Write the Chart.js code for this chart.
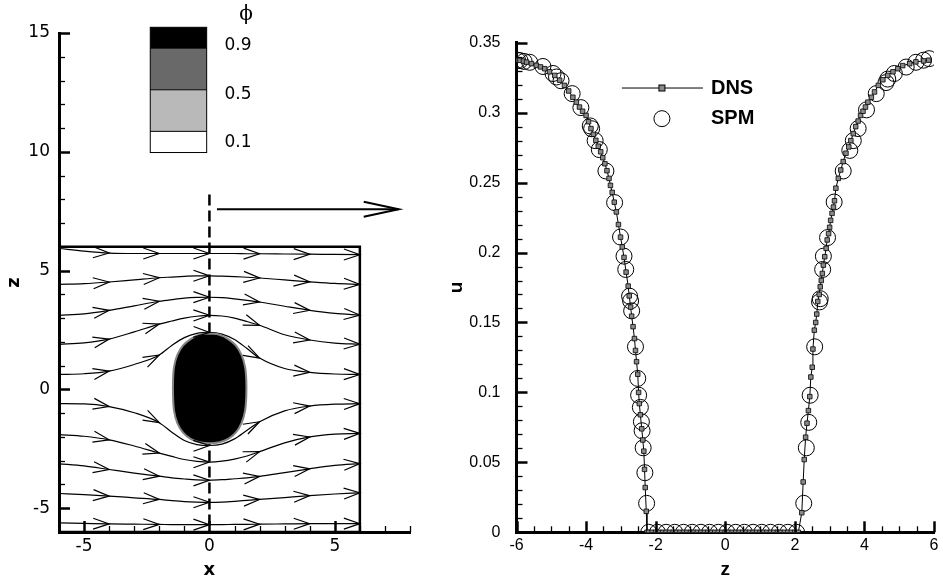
<!DOCTYPE html>
<html>
<head>
<meta charset="utf-8">
<script src="https://cdn.jsdelivr.net/npm/chart.js@4/dist/chart.umd.min.js"></script>
<style>
  body { margin: 0; background: #fff; }
  canvas { position: absolute; left: 0; top: 0; }
</style>
</head>
<body>
<canvas id="dropField" width="943" height="581"></canvas>
<canvas id="profile" width="943" height="581"></canvas>
<script>
// ---- left panel: streamlines around the drop ----
const streamX = [-6, -5, -4, -3, -2, -1.5, -1, -0.5, 0, 0.5, 1, 1.5, 2, 3, 4, 5, 6];
const streamZ = [
  [5.93, 5.82, 5.74, 5.72, 5.72, 5.72, 5.72, 5.72, 5.72, 5.72, 5.72, 5.71, 5.71, 5.7, 5.69, 5.68, 5.67],
  [4.42, 4.45, 4.52, 4.61, 4.7, 4.73, 4.76, 4.78, 4.78, 4.77, 4.75, 4.72, 4.69, 4.61, 4.53, 4.46, 4.42],
  [3.12, 3.18, 3.33, 3.52, 3.71, 3.78, 3.84, 3.87, 3.88, 3.86, 3.81, 3.75, 3.68, 3.5, 3.33, 3.2, 3.13],
  [1.9, 1.96, 2.12, 2.42, 2.75, 2.88, 3.0, 3.08, 3.12, 3.09, 3.0, 2.86, 2.7, 2.3, 2.08, 1.95, 1.9],
  [0.63, 0.66, 0.77, 1.05, 1.45, 1.85, 2.18, 2.36, 2.4, 2.33, 2.1, 1.72, 1.32, 0.88, 0.72, 0.65, 0.63],
  [-0.6, -0.61, -0.72, -0.98, -1.4, -1.8, -2.15, -2.32, -2.36, -2.3, -2.08, -1.72, -1.36, -0.9, -0.7, -0.62, -0.6],
  [-1.9, -1.97, -2.12, -2.38, -2.68, -2.82, -2.95, -3.03, -3.06, -3.02, -2.93, -2.8, -2.62, -2.25, -2.0, -1.88, -1.85],
  [-3.13, -3.22, -3.37, -3.52, -3.65, -3.72, -3.77, -3.81, -3.82, -3.8, -3.76, -3.72, -3.66, -3.5, -3.34, -3.2, -3.12],
  [-4.38, -4.43, -4.49, -4.56, -4.63, -4.68, -4.72, -4.74, -4.75, -4.74, -4.71, -4.67, -4.63, -4.55, -4.47, -4.4, -4.35],
  [-5.62, -5.64, -5.66, -5.67, -5.68, -5.69, -5.69, -5.69, -5.69, -5.69, -5.68, -5.68, -5.67, -5.66, -5.65, -5.65, -5.65],
];
const arrowStations = [-4, -2, 0, 2, 4, 6];

// drop outline (phi > 0.5)
const dropX = [0, 0.4, 0.75, 1.05, 1.28, 1.42, 1.47, 1.47, 1.42, 1.28, 1.05, 0.75, 0.4, 0,
  -0.4, -0.75, -1.05, -1.28, -1.41, -1.45, -1.45, -1.41, -1.28, -1.05, -0.75, -0.4, 0];
const dropZ = [2.35, 2.3, 2.12, 1.85, 1.45, 0.95, 0.4, -0.3, -0.9, -1.42, -1.82, -2.08, -2.22, -2.27,
  -2.22, -2.08, -1.82, -1.42, -0.9, -0.3, 0.4, 0.95, 1.45, 1.85, 2.12, 2.3, 2.35];

const boxX = [-6, 6, 6, -6, -6];
const boxZ = [-6, -6, 6, 6, -6];
const cutX = [0, 0];
const cutZ = [8.2, -6];
const pointerX = [0.3, 7.55];
const pointerZ = [7.58, 7.58];

const phiLabels = ["0.9", "0.5", "0.1"];
const phiShades = ["#000000", "#696969", "#b9b9b9", "#ffffff"];

// ---- right panel: u profile along z at x = 0 ----
const dnsZ = [
  -6.0, -5.9, -5.8, -5.71, -5.57, -5.43, -5.31, -5.19, -5.05, -4.9, -4.76, -4.62, -4.5, -4.38,
  -4.28, -4.19, -4.1, -4.0, -3.93, -3.86, -3.79, -3.72, -3.65, -3.58, -3.52, -3.46, -3.4, -3.34,
  -3.3, -3.25, -3.19, -3.13, -3.07, -3.01, -2.96, -2.91, -2.85, -2.79, -2.76, -2.72, -2.69, -2.65,
  -2.61, -2.58, -2.55, -2.515, -2.49, -2.47, -2.44, -2.4, -2.37, -2.34, -2.32, -2.3, -2.27, -2.25,
  -2.2, -2.1, -2.0, -1.9, -1.8, -1.7, -1.6, -1.5, -1.4, -1.3, -1.2, -1.1, -1.0, -0.9, -0.8,
  -0.7, -0.6, -0.5, -0.4, -0.3, -0.2, -0.1, 0, 0.1, 0.2, 0.3, 0.4, 0.5, 0.6, 0.7, 0.8,
  0.9, 1.0, 1.1, 1.2, 1.3, 1.4, 1.5, 1.6, 1.7, 1.8, 1.9, 2.0, 2.1, 2.2,
  2.24, 2.27, 2.31, 2.35, 2.39, 2.43, 2.46, 2.5, 2.52, 2.56, 2.6, 2.63, 2.66, 2.7, 2.73, 2.76,
  2.79, 2.82, 2.86, 2.9, 2.93, 2.97, 3.0, 3.03, 3.07, 3.11, 3.14, 3.18, 3.25, 3.32, 3.39, 3.47,
  3.55, 3.61, 3.68, 3.75, 3.82, 3.89, 3.96, 4.03, 4.1, 4.2, 4.29, 4.4, 4.53, 4.67, 4.82, 4.96,
  5.1, 5.3, 5.48, 5.7, 5.85, 6.0,
];
const dnsU = [
  0.3376, 0.3374, 0.3368, 0.3361, 0.335, 0.3338, 0.3327, 0.3314, 0.3292, 0.3266, 0.3232, 0.3195, 0.3155, 0.311,
  0.3075, 0.304, 0.301, 0.298, 0.2935, 0.2886, 0.2845, 0.2802, 0.276, 0.272, 0.2678, 0.2635, 0.2585, 0.253,
  0.248, 0.243, 0.236, 0.229, 0.22, 0.211, 0.204, 0.1965, 0.186, 0.176, 0.169, 0.161, 0.1545, 0.147,
  0.1385, 0.13, 0.122, 0.113, 0.1, 0.092, 0.084, 0.074, 0.066, 0.058, 0.045, 0.032, 0.015, 0,
  0, 0, 0, 0, 0, 0, 0, 0, 0, 0, 0, 0, 0, 0, 0,
  0, 0, 0, 0, 0, 0, 0, 0, 0, 0, 0, 0, 0, 0, 0,
  0, 0, 0, 0, 0, 0, 0, 0, 0, 0, 0, 0, 0, 0,
  0.014, 0.036, 0.052, 0.068, 0.078, 0.087, 0.097, 0.111, 0.118, 0.131, 0.1445, 0.15, 0.156, 0.165, 0.17, 0.1755,
  0.18, 0.185, 0.191, 0.197, 0.203, 0.209, 0.2135, 0.218, 0.223, 0.228, 0.2325, 0.237, 0.246, 0.253, 0.259, 0.265,
  0.271, 0.2755, 0.28, 0.285, 0.29, 0.294, 0.298, 0.301, 0.304, 0.3075, 0.311, 0.3148, 0.3195, 0.3235, 0.3266, 0.3292,
  0.3314, 0.3336, 0.335, 0.3363, 0.337, 0.3375,
];

const spmZ = [
  -5.97, -5.9, -5.78, -5.62, -5.24, -4.95, -4.85, -4.72, -4.4, -4.15, -3.88, -3.84, -3.74, -3.62, -3.43, -3.18,
  -3.01, -2.91, -2.86, -2.75, -2.72, -2.69, -2.58, -2.515, -2.49, -2.44, -2.41, -2.39, -2.36, -2.31, -2.26,
  -2.2, -1.95, -1.7, -1.45, -1.2, -0.95, -0.7, -0.45, -0.2, 0.05, 0.3, 0.55, 0.8, 1.05, 1.3, 1.55, 1.8, 2.05,
  2.256, 2.33, 2.4, 2.44, 2.57, 2.71, 2.73, 2.8, 2.82, 2.94, 3.13, 3.39, 3.58, 3.68, 3.82, 4.06, 4.34, 4.62,
  4.67, 4.86, 5.2, 5.48, 5.7, 5.86,
];
const spmU = [
  0.3375, 0.3372, 0.3366, 0.336, 0.333, 0.328, 0.3255, 0.3228, 0.3136, 0.3036, 0.2905, 0.2885, 0.28, 0.2736, 0.2583, 0.2357,
  0.2111, 0.1974, 0.1879, 0.1688, 0.1654, 0.1583, 0.1326, 0.11, 0.098, 0.0893, 0.079, 0.0726, 0.0604, 0.0426, 0.0207,
  0, 0, 0, 0, 0, 0, 0, 0, 0, 0, 0, 0, 0, 0, 0, 0, 0, 0,
  0.0207, 0.0604, 0.0786, 0.098, 0.1326, 0.1647, 0.167, 0.1879, 0.1974, 0.2107, 0.2361, 0.2583, 0.273, 0.28, 0.2886, 0.302, 0.3136, 0.3215,
  0.324, 0.328, 0.3326, 0.336, 0.3375, 0.3386,
];

Chart.defaults.font.family = "'Liberation Sans', Arial, Helvetica, sans-serif";
Chart.defaults.color = "#000";
const wideFont = "'DejaVu Sans', Verdana, sans-serif";

const pairs = (xs, ys) => xs.map((x, i) => ({ x: x, y: ys[i] }));

// open ">" arrow head with its tip at (x, y)
function chevron(ctx, x, y, ang, len, half, width) {
  const c = Math.cos(ang), s = Math.sin(ang);
  ctx.save();
  ctx.strokeStyle = "#000";
  ctx.lineWidth = width;
  ctx.beginPath();
  ctx.moveTo(x - len * c - half * s, y - len * s + half * c);
  ctx.lineTo(x, y);
  ctx.lineTo(x - len * c + half * s, y - len * s - half * c);
  ctx.stroke();
  ctx.restore();
}

const arrowHeads = {
  id: "arrowHeads",
  afterDatasetsDraw(chart) {
    chart.data.datasets.forEach((ds, i) => {
      if (!ds.arrowAt) return;
      const pts = chart.getDatasetMeta(i).data;
      ds.data.forEach((d, j) => {
        if (!ds.arrowAt.includes(d.x)) return;
        const a = pts[Math.max(j - 1, 0)];
        const b = pts[Math.min(j + 1, pts.length - 1)];
        chevron(chart.ctx, pts[j].x, pts[j].y, Math.atan2(b.y - a.y, b.x - a.x),
          ds.arrowLen, ds.arrowHalf, ds.borderWidth);
      });
    });
  },
};

// tecplot style ticks pointing into the plot
const innerTicks = {
  id: "innerTicks",
  afterDraw(chart, args, opts) {
    const { ctx, chartArea: area } = chart;
    ctx.save();
    ctx.strokeStyle = "#000";
    ["x", "y"].forEach((id) => {
      const sc = chart.scales[id];
      const { major, minor } = opts[id];
      const n = Math.round((sc.max - sc.min) / minor);
      for (let k = 0; k <= n; k++) {
        const v = sc.min + k * minor;
        const isMajor = Math.abs(v / major - Math.round(v / major)) < 1e-6;
        const p = Math.round(sc.getPixelForValue(v)) + 0.5;
        const len = isMajor ? 11 : 6;
        ctx.lineWidth = isMajor ? 2.5 : 1.3;
        ctx.beginPath();
        if (id === "x") {
          ctx.moveTo(p, area.bottom);
          ctx.lineTo(p, area.bottom - len);
        } else {
          ctx.moveTo(area.left, p);
          ctx.lineTo(area.left + len, p);
        }
        ctx.stroke();
      }
    });
    ctx.restore();
  },
};

// phi colour key plus the x title, which sits under x = 0 rather than mid axis
const phiLegend = {
  id: "phiLegend",
  afterDraw(chart) {
    const { ctx, scales: { x, y } } = chart;
    const x0 = x.getPixelForValue(-2.36);
    const x1 = x.getPixelForValue(-0.11);
    const edges = [15.24, 14.36, 12.61, 10.86, 9.97].map((v) => y.getPixelForValue(v));
    ctx.save();
    phiShades.forEach((c, i) => {
      ctx.fillStyle = c;
      ctx.fillRect(x0, edges[i], x1 - x0, edges[i + 1] - edges[i]);
    });
    ctx.strokeStyle = "#000";
    ctx.lineWidth = 1;
    ctx.strokeRect(x0, edges[0], x1 - x0, edges[4] - edges[0]);
    edges.slice(1, 4).forEach((e) => {
      ctx.beginPath();
      ctx.moveTo(x0, e);
      ctx.lineTo(x1, e);
      ctx.stroke();
    });
    ctx.fillStyle = "#000";
    ctx.textBaseline = "middle";
    ctx.textAlign = "left";
    ctx.font = "17px " + wideFont;
    [14.47, 12.39, 10.37].forEach((z, i) => {
      ctx.fillText(phiLabels[i], x.getPixelForValue(0.6), y.getPixelForValue(z));
    });
    ctx.textAlign = "center";
    ctx.font = "20px 'DejaVu Serif', 'Liberation Serif', serif";
    ctx.fillText("\u03D5", x.getPixelForValue(1.46), y.getPixelForValue(15.75));
    ctx.font = "bold 18px " + wideFont;
    ctx.fillText("x", x.getPixelForValue(0), x.bottom - 11);
    ctx.restore();
  },
};

const profileLegend = {
  id: "profileLegend",
  afterDraw(chart) {
    const { ctx, scales: { x, y } } = chart;
    const ly = y.getPixelForValue(0.3176);
    const cy = y.getPixelForValue(0.2957);
    const mx = x.getPixelForValue(-1.82);
    ctx.save();
    ctx.strokeStyle = "#000";
    ctx.lineWidth = 1;
    ctx.beginPath();
    ctx.moveTo(x.getPixelForValue(-2.97), ly);
    ctx.lineTo(x.getPixelForValue(-0.64), ly);
    ctx.stroke();
    ctx.fillStyle = "#8a8a8a";
    ctx.fillRect(mx - 3, ly - 3, 6, 6);
    ctx.strokeRect(mx - 3, ly - 3, 6, 6);
    ctx.beginPath();
    ctx.arc(mx, cy, 8, 0, 2 * Math.PI);
    ctx.stroke();
    ctx.fillStyle = "#000";
    ctx.font = "bold 20px 'Liberation Sans', Arial, sans-serif";
    ctx.textBaseline = "middle";
    ctx.fillText("DNS", x.getPixelForValue(-0.41), ly);
    ctx.fillText("SPM", x.getPixelForValue(-0.41), cy);
    ctx.restore();
  },
};

const streamSets = streamZ.map((zs) => ({
  data: pairs(streamX, zs),
  showLine: true,
  borderColor: "#000",
  borderWidth: 1.2,
  pointRadius: 0,
  cubicInterpolationMode: "monotone",
  arrowAt: arrowStations,
  arrowLen: 16,
  arrowHalf: 5.5,
  order: 3,
}));

new Chart(document.getElementById("dropField"), {
  type: "scatter",
  data: {
    datasets: [
      {
        data: pairs(dropX, dropZ),
        showLine: true,
        tension: 0.35,
        fill: "shape",
        backgroundColor: "#000",
        borderColor: "#858585",
        borderWidth: 2,
        pointRadius: 0,
        order: 0,
      },
      {
        data: pairs(cutX, cutZ),
        showLine: true,
        borderColor: "#000",
        borderWidth: 2.5,
        borderDash: [11, 5],
        pointRadius: 0,
        order: 1,
      },
      {
        data: pairs(pointerX, pointerZ),
        showLine: true,
        borderColor: "#000",
        borderWidth: 2,
        pointRadius: 0,
        arrowAt: [pointerX[1]],
        arrowLen: 35,
        arrowHalf: 7.5,
        order: 1,
      },
      {
        data: pairs(boxX, boxZ),
        showLine: true,
        borderColor: "#000",
        borderWidth: 2.5,
        pointRadius: 0,
        order: 2,
      },
      ...streamSets,
    ],
  },
  options: {
    responsive: false,
    animation: false,
    devicePixelRatio: 1,
    layout: { padding: { left: 0, right: 533, top: 33, bottom: 0 } },
    plugins: {
      legend: { display: false },
      tooltip: { enabled: false },
      innerTicks: { x: { major: 5, minor: 1 }, y: { major: 5, minor: 1 } },
    },
    scales: {
      x: {
        type: "linear",
        min: -6,
        max: 8,
        afterFit: (s) => { s.height = 49; },
        grid: { display: false, drawTicks: false },
        border: { display: true, width: 3, color: "#000" },
        ticks: {
          stepSize: 1,
          autoSkip: false,
          maxRotation: 0,
          padding: 4,
          font: { size: 17, family: wideFont },
          callback: (v) => (v % 5 === 0 ? String(v) : ""),
        },
        title: { display: false },
      },
      y: {
        type: "linear",
        min: -6,
        max: 15,
        afterFit: (s) => { s.width = 59; },
        grid: { display: false, drawTicks: false },
        border: { display: true, width: 3, color: "#000" },
        ticks: {
          stepSize: 1,
          autoSkip: false,
          padding: 9,
          font: { size: 17, family: wideFont },
          callback: (v) => (v % 5 === 0 ? String(v) : ""),
        },
        title: { display: true, text: "z", font: { size: 18, weight: "bold", family: wideFont }, padding: { top: 4, bottom: 0 } },
      },
    },
  },
  plugins: [arrowHeads, innerTicks, phiLegend],
});

new Chart(document.getElementById("profile"), {
  type: "scatter",
  data: {
    datasets: [
      {
        label: "DNS",
        data: pairs(dnsZ, dnsU),
        showLine: true,
        borderColor: "#000",
        borderWidth: 1,
        pointStyle: "rect",
        pointRadius: 3.2,
        pointBackgroundColor: "#8a8a8a",
        pointBorderColor: "#000",
        pointBorderWidth: 0.8,
        order: 0,
      },
      {
        label: "SPM",
        data: pairs(spmZ, spmU),
        showLine: false,
        pointStyle: "circle",
        pointRadius: 8,
        pointBackgroundColor: "rgba(0,0,0,0)",
        pointBorderColor: "#000",
        pointBorderWidth: 1,
        order: 1,
      },
    ],
  },
  options: {
    responsive: false,
    animation: false,
    devicePixelRatio: 1,
    layout: { padding: { left: 441, right: 5, top: 42.7, bottom: 0 } },
    plugins: {
      legend: { display: false },
      tooltip: { enabled: false },
      innerTicks: { x: { major: 2, minor: 0.5 }, y: { major: 0.05, minor: 0.01 } },
    },
    scales: {
      x: {
        type: "linear",
        min: -6,
        max: 6,
        afterFit: (s) => { s.height = 48.7; },
        grid: { display: false, drawTicks: false },
        border: { display: true, width: 3, color: "#000" },
        ticks: { stepSize: 2, autoSkip: false, maxRotation: 0, padding: 4, font: { size: 16 } },
        title: { display: true, text: "z", font: { size: 19, weight: "bold" }, padding: { top: 0, bottom: 0 } },
      },
      y: {
        type: "linear",
        min: 0,
        max: 0.35,
        afterFit: (s) => { s.width = 75.5; },
        grid: { display: false, drawTicks: false },
        border: { display: true, width: 3, color: "#000" },
        ticks: {
          stepSize: 0.05,
          autoSkip: false,
          padding: 16,
          font: { size: 16 },
          callback: (v) => String(Number(v.toFixed(2))),
        },
        title: { display: true, text: "u", font: { size: 19, weight: "bold" }, padding: { top: 4, bottom: 0 } },
      },
    },
  },
  plugins: [innerTicks, profileLegend],
});
</script>
</body>
</html>
